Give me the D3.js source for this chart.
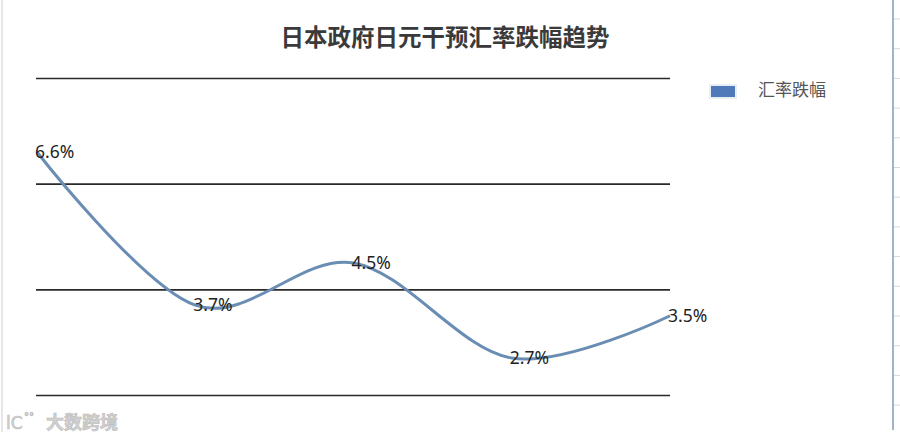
<!DOCTYPE html>
<html><head><meta charset="utf-8">
<script src="https://cdn.jsdelivr.net/npm/d3@7"></script>
<style>body{margin:0;background:#fff}svg{display:block}</style>
</head><body>
<script>
const categories = ["1", "2", "3", "4", "5"];
const values = [6.6, 3.7, 4.5, 2.7, 3.5];
const gridTicks = [2, 4, 6, 8];
const title = "日本政府日元干预汇率跌幅趋势";
const seriesName = "汇率跌幅";

const W = 900, H = 438;
const svg = d3.select("body").append("svg").attr("width", W).attr("height", H);
const font = "'Noto Sans CJK SC','Noto Sans',sans-serif";

const x = d3.scalePoint().domain(categories).range([37, 670]);
const y = d3.scaleLinear().domain([2, 8]).range([395, 78]);

// left faint border
svg.append("line").attr("x1", 2).attr("x2", 2).attr("y1", 0).attr("y2", 432)
  .attr("stroke", "#e6e6e6").attr("stroke-width", 2);

// right ruler
svg.append("line").attr("x1", 893).attr("x2", 893).attr("y1", 0).attr("y2", 430)
  .attr("stroke", "#7f9bb8").attr("stroke-width", 1.5);
const rulerTicks = d3.range(19, 430, 29.7);
svg.selectAll(".rt").data(rulerTicks).enter().append("line")
  .attr("x1", 894).attr("x2", 900).attr("y1", d => d).attr("y2", d => d)
  .attr("stroke", "#d8d8d8").attr("stroke-width", 1);

// gridlines via axis
const gAxis = svg.append("g").attr("transform", "translate(36,0)")
  .call(d3.axisRight(y).tickValues(gridTicks).tickSize(634).tickFormat(""));
gAxis.select(".domain").remove();
gAxis.selectAll(".tick line").attr("stroke", "#2a2a2a").attr("stroke-width", 1.6);

// title
svg.append("text").attr("x", 445).attr("y", 46).attr("text-anchor", "middle")
  .attr("font-family", font).attr("font-weight", "bold").attr("font-size", 23.5)
  .attr("fill", "#3a3a3a").text(title);

// line
const line = d3.line().x((d, i) => x(categories[i])).y(d => y(d))
  .curve(d3.curveCatmullRom.alpha(0));
svg.append("path").datum(values).attr("d", line).attr("fill", "none")
  .attr("stroke", "#6a8db3").attr("stroke-width", 3);

// labels
svg.selectAll(".lbl").data(values).enter().append("text")
  .attr("x", (d, i) => x(categories[i]) - 2).attr("y", d => y(d) + 6)
  .attr("font-family", "'Noto Sans',sans-serif").attr("font-size", 17.5)
  .attr("fill", "#222").text(d => d.toFixed(1) + "%");

// legend
svg.append("rect").attr("x", 709).attr("y", 84).attr("width", 28).attr("height", 15)
  .attr("fill", "#e8eef6");
svg.append("rect").attr("x", 711).attr("y", 86).attr("width", 24).attr("height", 11)
  .attr("fill", "#4f79b8");
svg.append("text").attr("x", 758).attr("y", 96).attr("font-family", font)
  .attr("font-size", 17).attr("fill", "#555").text(seriesName);

// watermark
const wm = svg.append("g").attr("fill", "#d0d0d0").attr("stroke", "#bdbdbd").attr("stroke-width", 0.6);
wm.append("text").attr("x", 6).attr("y", 429).attr("font-family", "'DejaVu Sans',sans-serif")
  .attr("font-size", 17).text("lC");
wm.append("text").attr("x", 24).attr("y", 420).attr("font-family", "'DejaVu Sans',sans-serif")
  .attr("font-size", 10).text("°°");
wm.append("text").attr("x", 46).attr("y", 429).attr("font-family", font)
  .attr("font-size", 18).attr("font-weight", "bold").text("大数跨境");
</script>
</body></html>
